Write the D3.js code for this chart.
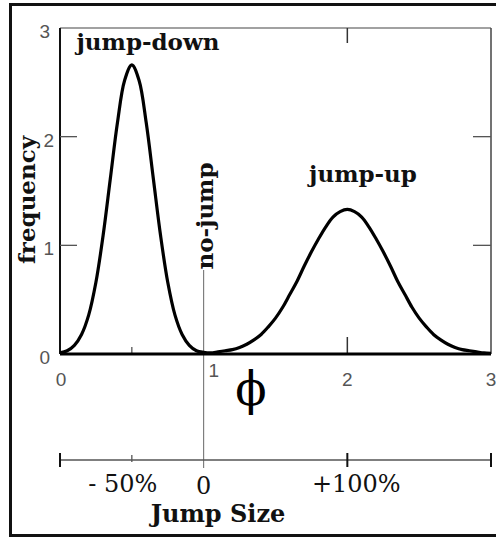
<!DOCTYPE html>
<html>
<head>
<meta charset="utf-8">
<script src="https://cdn.jsdelivr.net/npm/d3@7/dist/d3.min.js"></script>
<style>
  body { margin: 0; background: #fff; }
  .tick-num { font-family: "Liberation Sans", Arial, sans-serif; font-size: 19px; fill: #555; }
  .lbl { font-family: "DejaVu Serif", serif; font-weight: bold; font-size: 23px; fill: #111; }
  .pct { font-family: "DejaVu Serif", serif; font-size: 24px; fill: #111; }
</style>
</head>
<body>
<svg id="chart"></svg>
<script>
// jump size distribution (phi = relative size after jump)
const phi = [0.00, 0.05, 0.10, 0.15, 0.20, 0.25, 0.30, 0.35, 0.40, 0.45,
             0.50, 0.55, 0.60, 0.65, 0.70, 0.75, 0.80, 0.85, 0.90, 0.95,
             1.00, 1.05, 1.10, 1.15, 1.20, 1.25, 1.30, 1.35, 1.40, 1.45,
             1.50, 1.55, 1.60, 1.65, 1.70, 1.75, 1.80, 1.85, 1.90, 1.95,
             2.00, 2.05, 2.10, 2.15, 2.20, 2.25, 2.30, 2.35, 2.40, 2.45,
             2.50, 2.55, 2.60, 2.65, 2.70, 2.75, 2.80, 2.85, 2.90, 2.95, 3.00];
const freq = [0.01, 0.03, 0.08, 0.18, 0.36, 0.66, 1.09, 1.61, 2.13, 2.52,
              2.66, 2.52, 2.13, 1.61, 1.09, 0.66, 0.36, 0.18, 0.08, 0.03,
              0.015, 0.01, 0.02, 0.03, 0.04, 0.06, 0.09, 0.13, 0.18, 0.25,
              0.33, 0.43, 0.55, 0.67, 0.81, 0.94, 1.06, 1.17, 1.26, 1.31,
              1.33, 1.31, 1.26, 1.17, 1.06, 0.94, 0.81, 0.67, 0.55, 0.43,
              0.33, 0.25, 0.18, 0.13, 0.09, 0.06, 0.04, 0.03, 0.02, 0.01, 0.005];

const yTicks = [0, 1, 2, 3];
const xTicks = [0, 1, 2, 3];
const pctTicks = [-50, 0, 100];
const pctLabels = ["- 50%", "0", "+100%"];

const W = 496, H = 539;
const svg = d3.select('#chart').attr('width', W).attr('height', H);

const x = d3.scaleLinear().domain([0, 3]).range([60, 491]);
const y = d3.scaleLinear().domain([0, 3]).range([354, 28]);
// jump size in percent: (phi - 1) * 100
const xPct = d3.scaleLinear().domain([-100, 200]).range([60, 491]);

// outer frame (runs off the right edge)
svg.append('rect')
    .attr('x', 10.5).attr('y', 4.5)
    .attr('width', 520).attr('height', 531)
    .attr('fill', 'none').attr('stroke', '#111').attr('stroke-width', 3);

// plot box
svg.append('line').attr('x1', x(0)).attr('x2', x(3)).attr('y1', y(3)).attr('y2', y(3))
    .attr('stroke', '#444').attr('stroke-width', 1.2);
svg.append('line').attr('x1', x(3)).attr('x2', x(3)).attr('y1', y(3)).attr('y2', y(0))
    .attr('stroke', '#444').attr('stroke-width', 1.5);
svg.append('line').attr('x1', x(0)).attr('x2', x(0)).attr('y1', y(3)).attr('y2', y(0))
    .attr('stroke', '#111').attr('stroke-width', 2);

// inward ticks
[1, 2].forEach(v => {
  svg.append('line').attr('x1', x(0)).attr('x2', x(0) + 17).attr('y1', y(v)).attr('y2', y(v))
      .attr('stroke', '#555').attr('stroke-width', 1.3);
  svg.append('line').attr('x1', x(3) - 18).attr('x2', x(3)).attr('y1', y(v)).attr('y2', y(v))
      .attr('stroke', '#555').attr('stroke-width', 1.3);
});
svg.append('line').attr('x1', x(2)).attr('x2', x(2)).attr('y1', y(3)).attr('y2', y(3) + 15)
    .attr('stroke', '#333').attr('stroke-width', 1.5);
svg.append('line').attr('x1', x(2)).attr('x2', x(2)).attr('y1', y(0)).attr('y2', y(0) - 17)
    .attr('stroke', '#333').attr('stroke-width', 1.5);
svg.append('line').attr('x1', x(0.5)).attr('x2', x(0.5)).attr('y1', y(0)).attr('y2', y(0) - 7)
    .attr('stroke', '#555').attr('stroke-width', 1.3);

// no-jump marker line
svg.append('line').attr('x1', x(1)).attr('x2', x(1)).attr('y1', 270).attr('y2', 468)
    .attr('stroke', '#666').attr('stroke-width', 1);

// curve
const pts = phi.map((p, i) => [p, freq[i]]);
svg.append('path')
    .datum(pts)
    .attr('d', d3.line().x(d => x(d[0])).y(d => y(d[1])).curve(d3.curveCatmullRom))
    .attr('fill', 'none').attr('stroke', '#000').attr('stroke-width', 3.2)
    .attr('stroke-linejoin', 'round');

// x axis baseline
svg.append('line').attr('x1', x(0)).attr('x2', x(3)).attr('y1', y(0)).attr('y2', y(0))
    .attr('stroke', '#000').attr('stroke-width', 3);

// tick numbers
svg.selectAll('.ylab').data(yTicks).join('text')
    .attr('class', 'tick-num')
    .attr('x', d => d === 1 || d === 2 ? 54 : 50).attr('y', d => y(d) + 10)
    .attr('text-anchor', 'end')
    .text(d => d);

svg.selectAll('.xlab').data(xTicks).join('text')
    .attr('class', 'tick-num')
    .attr('x', d => x(d) + (d === 1 ? 10 : d === 0 ? 1 : 0))
    .attr('y', d => d === 1 ? 377 : 386)
    .attr('text-anchor', 'middle')
    .text(d => d);

// phi symbol
svg.append('text')
    .attr('x', 251).attr('y', 405)
    .attr('text-anchor', 'middle')
    .style('font-family', '"DejaVu Serif", serif')
    .style('font-size', '46px')
    .text('ϕ');

// jump size axis
const ay = 460;
svg.append('line').attr('x1', xPct(-100)).attr('x2', xPct(200)).attr('y1', ay).attr('y2', ay)
    .attr('stroke', '#555').attr('stroke-width', 1.5);
[-100, 100, 200].forEach(v => {
  svg.append('line').attr('x1', xPct(v)).attr('x2', xPct(v)).attr('y1', ay - 7).attr('y2', ay + 7)
      .attr('stroke', '#111').attr('stroke-width', 2);
});
svg.append('line').attr('x1', xPct(-50)).attr('x2', xPct(-50)).attr('y1', ay - 5).attr('y2', ay + 2)
    .attr('stroke', '#555').attr('stroke-width', 1.3);

svg.selectAll('.pct').data(pctTicks).join('text')
    .attr('class', 'pct')
    .attr('x', (d, i) => xPct(d) + (d < 0 ? -9 : d > 0 ? 9 : 0))
    .attr('y', d => d === 0 ? 494 : 492)
    .attr('text-anchor', 'middle')
    .text((d, i) => pctLabels[i]);

// labels
svg.append('text').attr('class', 'lbl').attr('x', 148).attr('y', 50)
    .attr('text-anchor', 'middle').text('jump-down');
svg.append('text').attr('class', 'lbl').attr('x', 363).attr('y', 182)
    .attr('text-anchor', 'middle').text('jump-up');
svg.append('text').attr('class', 'lbl')
    .attr('transform', 'translate(35,200) rotate(-90)')
    .attr('text-anchor', 'middle').text('frequency');
svg.append('text').attr('class', 'lbl')
    .attr('transform', 'translate(213,216) rotate(-90)')
    .attr('text-anchor', 'middle').text('no-jump');
svg.append('text').attr('class', 'lbl').attr('x', 218).attr('y', 522)
    .attr('text-anchor', 'middle').style('font-size', '24px').text('Jump Size');
</script>
</body>
</html>
